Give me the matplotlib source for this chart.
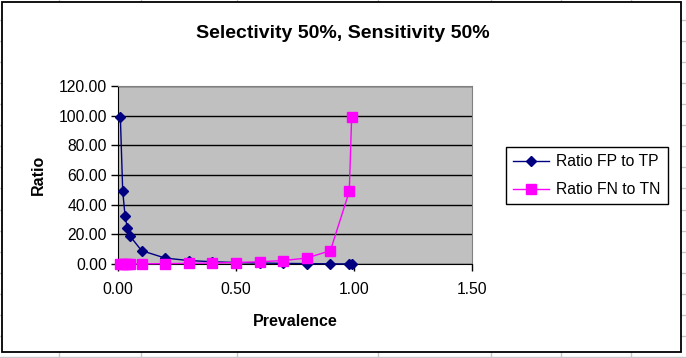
import matplotlib.pyplot as plt
from matplotlib.lines import Line2D
from matplotlib.patches import Rectangle

plt.rcParams['font.family'] = ['Liberation Sans', 'DejaVu Sans']

# data
prevalence = [0.01, 0.02, 0.03, 0.04, 0.05, 0.1, 0.2, 0.3, 0.4, 0.5, 0.6, 0.7, 0.8, 0.9, 0.98, 0.99]
fp_to_tp = [99.0, 49.0, 32.33, 24.0, 19.0, 9.0, 4.0, 2.33, 1.5, 1.0, 0.67, 0.43, 0.25, 0.11, 0.02, 0.01]
fn_to_tn = [0.01, 0.02, 0.03, 0.04, 0.05, 0.11, 0.25, 0.43, 0.67, 1.0, 1.5, 2.33, 4.0, 9.0, 49.0, 99.0]
xticks = [0.0, 0.5, 1.0, 1.5]
yticks = [0, 20, 40, 60, 80, 100, 120]

W, H = 686, 358
fig = plt.figure(figsize=(W / 100, H / 100), dpi=100)
fig.patch.set_facecolor('white')

def fx(px):
    return px / W

def fy(py):
    return 1 - py / H

# spreadsheet cell lines behind the chart
for cx in [59, 141, 237, 378, 491, 561, 631]:
    fig.add_artist(Line2D([fx(cx), fx(cx)], [0, 1], color='#c8c8c8', lw=1, zorder=0))
for i in range(17):
    cy = 20 + i * 21.06
    fig.add_artist(Line2D([0, 1], [fy(cy), fy(cy)], color='#c8c8c8', lw=1, zorder=0))

# chart area
fig.add_artist(Rectangle((fx(2), fy(352)), fx(681) - fx(2), fy(2) - fy(352),
                         transform=fig.transFigure, facecolor='white',
                         edgecolor='black', lw=1.3, zorder=1))

ax = fig.add_axes([fx(118), fy(264), fx(472) - fx(118), fy(86) - fy(264)], zorder=2)
ax.set_facecolor('#c0c0c0')

ax.plot(prevalence, fp_to_tp, color='#000080', lw=1, marker='D', markersize=5.5,
        label='Ratio FP to TP', clip_on=False, zorder=3)
ax.plot(prevalence, fn_to_tn, color='#ff00ff', lw=1, marker='s', markersize=6.5,
        label='Ratio FN to TN', clip_on=False, zorder=3)

ax.set_xlim(0, 1.5)
ax.set_ylim(0, 120)
ax.set_xticks(xticks)
ax.set_yticks(yticks)
ax.set_xticklabels(['%.2f' % v for v in xticks])
ax.set_yticklabels(['%.2f' % v for v in yticks])
ax.yaxis.grid(True, color='black', lw=1)
ax.set_axisbelow(True)
ax.tick_params(labelsize=11.3, length=5, width=1, direction='out')
ax.tick_params(axis='y', pad=3)
ax.tick_params(axis='x', pad=8)

for s in ['left', 'bottom']:
    ax.spines[s].set_color('black')
for s in ['top', 'right']:
    ax.spines[s].set_color('#808080')

ax.set_xlabel('Prevalence', fontsize=11.5, fontweight='bold', labelpad=12)
ax.set_ylabel('Ratio', fontsize=11.5, fontweight='bold', labelpad=9)

fig.text(fx(343), fy(33), 'Selectivity 50%, Sensitivity 50%', fontsize=14,
         fontweight='bold', ha='center', va='center')

leg = fig.legend(loc='upper left', bbox_to_anchor=(fx(506), fy(147)), fontsize=11.3,
                 frameon=True, fancybox=False, edgecolor='black', framealpha=1,
                 handlelength=2.3, handletextpad=0.45, labelspacing=0.85,
                 borderpad=0.45, borderaxespad=0)
leg.get_frame().set_linewidth(1)
leg.set_zorder(4)

fig.savefig('out.png', dpi=100)
